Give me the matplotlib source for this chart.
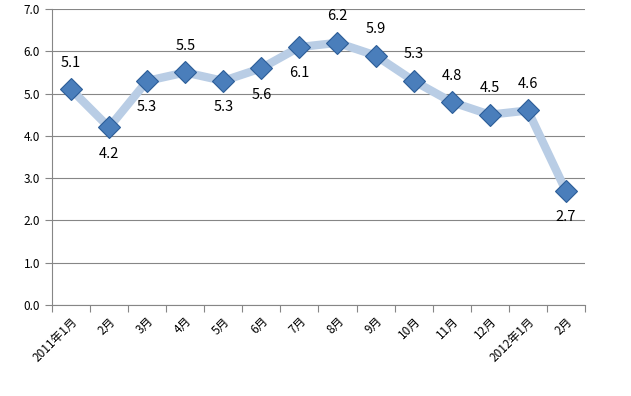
import matplotlib.pyplot as plt
import numpy as np

plt.rcParams['font.family'] = ['Noto Sans CJK SC', 'DejaVu Sans']

months = ['2011年1月', '2月', '3月', '4月', '5月', '6月', '7月', '8月', '9月',
          '10月', '11月', '12月', '2012年1月', '2月']
values = [5.1, 4.2, 5.3, 5.5, 5.3, 5.6, 6.1, 6.2, 5.9, 5.3, 4.8, 4.5, 4.6, 2.7]
label_pos = ['up', 'down', 'down', 'up', 'down', 'down', 'down', 'up', 'up',
             'up', 'up', 'up', 'up', 'down']

fig = plt.figure(figsize=(6.31, 3.96), dpi=100)
ax = fig.add_axes([0.0824, 0.2298, 0.8446, 0.7475])

x = np.arange(len(values))
ax.plot(x, values, color='#b9cde5', lw=6, zorder=2, solid_joinstyle='round')
ax.plot(x, values, ls='none', marker='D', ms=11.5, mfc='#4a7ebb',
        mec='#2c5d98', mew=0.8, zorder=3)

for xi, v, p in zip(x, values, label_pos):
    dy = 19 if p == 'up' else -19
    ax.annotate('%.1f' % v, (xi, v), xytext=(0, dy), textcoords='offset points',
                ha='center', va='center', fontsize=10.5, color='#000000')

ax.set_xlim(-0.5, len(values) - 0.5)
ax.set_ylim(0, 7)
ax.set_yticks(np.arange(0, 7.1, 1))
ax.set_yticklabels(['%.1f' % t for t in np.arange(0, 7.1, 1)], fontsize=8.5)
ax.yaxis.grid(True, color='#868686', lw=0.8)
ax.set_axisbelow(True)

ax.set_xticks(np.arange(-0.5, len(values), 1))
ax.set_xticklabels([])
ax.set_xticks(x, minor=True)
ax.set_xticklabels(months, minor=True, rotation=45, ha='right',
                   rotation_mode='anchor', fontsize=8.5)
ax.tick_params(axis='x', which='major', length=5, color='#868686', direction='out')
ax.tick_params(axis='x', which='minor', length=0, pad=7)
ax.tick_params(axis='y', length=5, color='#868686')

for s in ['top', 'right']:
    ax.spines[s].set_visible(False)
ax.spines['left'].set_color('#868686')
ax.spines['bottom'].set_color('#868686')

fig.savefig('out.png', dpi=100)
